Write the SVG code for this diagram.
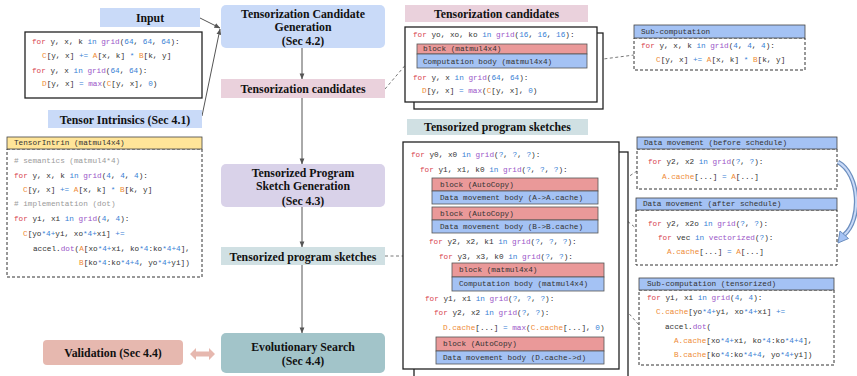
<svg xmlns="http://www.w3.org/2000/svg" width="857" height="376" viewBox="0 0 857 376">
<style>
.lb{font-family:"Liberation Serif",serif;font-weight:bold;font-size:11.8px;fill:#111;text-anchor:middle;dominant-baseline:central}
.c{font-family:"Liberation Mono",monospace;font-size:7.7px;fill:#333;dominant-baseline:central}
.k{fill:#d8434f}.i{fill:#3a7fd5}.f{fill:#9a55c8}.v{fill:#ee8a35}.cm{fill:#9a9a9a}
.box{fill:#fff;stroke:#222;stroke-width:1.3}
.dash{fill:#fff;stroke:#333;stroke-width:1;stroke-dasharray:3 2}
.hdr{stroke:#444;stroke-width:0.8}
.red{fill:#ea9999;stroke:#555;stroke-width:0.8}
.blue{fill:#a4c2f4;stroke:#555;stroke-width:0.8}
.conn{stroke:#555;stroke-width:1;fill:none}
.dl{stroke:#555;stroke-width:0.8;fill:none;stroke-dasharray:3 2.5}
</style>
<defs>
<marker id="ah" viewBox="0 0 8 8" refX="7.5" refY="4" markerWidth="6" markerHeight="6" orient="auto" markerUnits="userSpaceOnUse">
<path d="M0,0.8 L8,4 L0,7.2 z" fill="#555"/>
</marker>
</defs>
<rect width="857" height="376" fill="#fff"/>

<g id="connectors">
<line class="conn" x1="200" y1="18" x2="220" y2="28" marker-end="url(#ah)"/>
<line class="conn" x1="202" y1="116" x2="220" y2="29" marker-end="url(#ah)"/>
<line class="conn" x1="302" y1="48" x2="302" y2="79" marker-end="url(#ah)"/>
<line class="conn" x1="302" y1="98" x2="302" y2="164" marker-end="url(#ah)"/>
<line class="conn" x1="302" y1="207" x2="302" y2="247" marker-end="url(#ah)"/>
<line class="conn" x1="302" y1="265" x2="302" y2="333" marker-end="url(#ah)"/>
<line class="dl" x1="385" y1="89" x2="408" y2="62"/>
<line class="dl" x1="385" y1="256" x2="403" y2="256"/>
<line class="dl" x1="588" y1="61" x2="634" y2="55"/>
<line class="dl" x1="598" y1="197" x2="637" y2="171"/>
<line class="dl" x1="598" y1="197" x2="637" y2="229"/>
<line class="dl" x1="604" y1="285" x2="639" y2="325"/>
<path d="M190,354 L196,348 L196,351.5 L209,351.5 L209,348 L215,354 L209,360 L209,356.5 L196,356.5 L196,360 z" fill="#e6b8af"/>
<path d="M838,162 C860,174 862,220 844,235" fill="none" stroke="#6d8fbf" stroke-width="4.5"/>
<path d="M838,162 C860,174 862,220 844,235" fill="none" stroke="#c9daf8" stroke-width="2"/>
<polygon points="838,243 848.5,238.5 840,231" fill="#a4c2f4" stroke="#6d8fbf" stroke-width="1"/>
</g>

<g id="input-label">
<rect x="100" y="8" width="100" height="19" fill="#c9daf8"/>
<text class="lb" x="150" y="18">Input</text>
</g>

<g id="input-code">
<rect class="box" x="25" y="32" width="177" height="66"/>
<text class="c" x="32" y="42"><tspan class="k">for</tspan> y, x, k <tspan class="i">in</tspan> <tspan class="f">grid</tspan>(<tspan class="i">64</tspan>, <tspan class="i">64</tspan>, <tspan class="i">64</tspan>):</text>
<text class="c" x="42" y="56"><tspan class="v">C</tspan>[y, x] <tspan class="i">+=</tspan> <tspan class="v">A</tspan>[x, k] <tspan class="i">*</tspan> <tspan class="v">B</tspan>[k, y]</text>
<text class="c" x="32" y="71"><tspan class="k">for</tspan> y, x <tspan class="i">in</tspan> <tspan class="f">grid</tspan>(<tspan class="i">64</tspan>, <tspan class="i">64</tspan>):</text>
<text class="c" x="42" y="84"><tspan class="v">D</tspan>[y, x] <tspan class="i">=</tspan> <tspan class="f">max</tspan>(<tspan class="v">C</tspan>[y, x], <tspan class="i">0</tspan>)</text>
</g>

<g id="tensor-intrinsics-label">
<rect x="48" y="110" width="154" height="18" fill="#c9daf8"/>
<text class="lb" x="125" y="120">Tensor Intrinsics  (Sec 4.1)</text>
</g>

<g id="tensorintrin">
<rect class="dash" x="7" y="149" width="195" height="128"/>
<rect class="hdr" x="7" y="137" width="195" height="12" fill="#ffe599"/>
<text class="c" x="14" y="143">TensorIntrin (matmul4x4)</text>
<text class="c cm" x="14" y="161"># semantics (matmul4*4)</text>
<text class="c" x="14" y="175.5"><tspan class="k">for</tspan> y, x, k <tspan class="i">in</tspan> <tspan class="f">grid</tspan>(<tspan class="i">4</tspan>, <tspan class="i">4</tspan>, <tspan class="i">4</tspan>):</text>
<text class="c" x="23" y="190"><tspan class="v">C</tspan>[y, x] <tspan class="i">+=</tspan> <tspan class="v">A</tspan>[x, k] <tspan class="i">*</tspan> <tspan class="v">B</tspan>[k, y]</text>
<text class="c cm" x="14" y="204"># implementation (dot)</text>
<text class="c" x="14" y="219"><tspan class="k">for</tspan> yi, xi <tspan class="i">in</tspan> <tspan class="f">grid</tspan>(<tspan class="i">4</tspan>, <tspan class="i">4</tspan>):</text>
<text class="c" x="23" y="233.5"><tspan class="v">C</tspan>[yo<tspan class="i">*4+</tspan>yi, xo<tspan class="i">*4+</tspan>xi] <tspan class="i">+=</tspan></text>
<text class="c" x="33" y="249">accel.<tspan class="f">dot</tspan>(<tspan class="v">A</tspan>[xo<tspan class="i">*4+</tspan>xi, ko<tspan class="i">*4</tspan>:ko<tspan class="i">*4+4</tspan>],</text>
<text class="c" x="79" y="263"><tspan class="v">B</tspan>[ko<tspan class="i">*4</tspan>:ko<tspan class="i">*4+4</tspan>, yo<tspan class="i">*4+</tspan>yi])</text>
</g>

<g id="candidate-generation">
<rect x="221" y="5" width="164" height="43" rx="5" fill="#c9daf8"/>
<text class="lb" x="303" y="14">Tensorization Candidate</text>
<text class="lb" x="303" y="27">Generation</text>
<text class="lb" x="303" y="41">(Sec 4.2)</text>
</g>

<g id="candidates-center">
<rect x="221" y="79" width="164" height="19" fill="#ead1dc"/>
<text class="lb" x="303" y="89">Tensorization candidates</text>
</g>

<g id="sketch-generation">
<rect x="221" y="164" width="164" height="43" rx="5" fill="#d9d2e9"/>
<text class="lb" x="303" y="172.5">Tensorized Program</text>
<text class="lb" x="303" y="186">Sketch Generation</text>
<text class="lb" x="303" y="201">(Sec 4.3)</text>
</g>

<g id="sketches-center">
<rect x="221" y="247" width="164" height="18" fill="#d0e0e3"/>
<text class="lb" x="303" y="256.5">Tensorized program sketches</text>
</g>

<g id="evolutionary-search">
<rect x="221" y="333" width="164" height="40" rx="5" fill="#a2c4c9"/>
<text class="lb" x="303" y="346.5">Evolutionary Search</text>
<text class="lb" x="303" y="361">(Sec 4.4)</text>
</g>

<g id="validation">
<rect x="43" y="340" width="140" height="25" rx="4" fill="#e6b8af"/>
<text class="lb" x="113" y="353">Validation (Sec 4.4)</text>
</g>

<g id="candidates-panel">
<rect x="405" y="5" width="183" height="17" fill="#ead1dc"/>
<text class="lb" x="496.5" y="14">Tensorization candidates</text>
<rect class="box" x="414" y="33" width="189" height="76"/>
<rect class="box" x="405" y="27" width="192" height="75"/>
<text class="c" x="413" y="34.5"><tspan class="k">for</tspan> yo, xo, ko <tspan class="i">in</tspan> <tspan class="f">grid</tspan>(<tspan class="i">16</tspan>, <tspan class="i">16</tspan>, <tspan class="i">16</tspan>):</text>
<rect class="red" x="417" y="44" width="170" height="10"/>
<text class="c" x="423" y="49">block (matmul4x4)</text>
<rect class="blue" x="417" y="54" width="170" height="14"/>
<text class="c" x="423" y="61.5">Computation body (matmul4x4)</text>
<text class="c" x="413" y="78"><tspan class="k">for</tspan> y, x <tspan class="i">in</tspan> <tspan class="f">grid</tspan>(<tspan class="i">64</tspan>, <tspan class="i">64</tspan>):</text>
<text class="c" x="422" y="91"><tspan class="v">D</tspan>[y, x] <tspan class="i">=</tspan> <tspan class="f">max</tspan>(<tspan class="v">C</tspan>[y, x], <tspan class="i">0</tspan>)</text>
</g>

<g id="sub-computation">
<rect class="dash" x="634" y="38" width="171" height="32"/>
<rect class="hdr" x="634" y="25" width="171" height="13" fill="#a4c2f4"/>
<text class="c" x="641" y="32">Sub-computation</text>
<text class="c" x="641" y="46"><tspan class="k">for</tspan> y, x, k <tspan class="i">in</tspan> <tspan class="f">grid</tspan>(<tspan class="i">4</tspan>, <tspan class="i">4</tspan>, <tspan class="i">4</tspan>):</text>
<text class="c" x="656" y="60"><tspan class="v">C</tspan>[y, x] <tspan class="i">+=</tspan> <tspan class="v">A</tspan>[x, k] <tspan class="i">*</tspan> <tspan class="v">B</tspan>[k, y]</text>
</g>

<g id="sketches-panel">
<rect x="407" y="119" width="181" height="16" fill="#d0e0e3"/>
<text class="lb" x="497.5" y="127">Tensorized program sketches</text>
<rect class="box" x="414" y="152" width="214" height="230"/>
<rect class="box" x="403" y="142" width="216" height="227"/>
<text class="c" x="411" y="155"><tspan class="k">for</tspan> y0, x0 <tspan class="i">in</tspan> <tspan class="f">grid</tspan>(<tspan class="i">?</tspan>, <tspan class="i">?</tspan>, <tspan class="i">?</tspan>):</text>
<text class="c" x="420" y="170"><tspan class="k">for</tspan> y1, x1, k0 <tspan class="i">in</tspan> <tspan class="f">grid</tspan>(<tspan class="i">?</tspan>, <tspan class="i">?</tspan>, <tspan class="i">?</tspan>):</text>
<rect class="red" x="432" y="178" width="166" height="13"/>
<text class="c" x="440" y="184.5">block (AutoCopy)</text>
<rect class="blue" x="432" y="191" width="166" height="13"/>
<text class="c" x="440" y="197.5">Data movement body (A-&gt;A.cache)</text>
<rect class="red" x="432" y="207" width="166" height="13"/>
<text class="c" x="440" y="213.5">block (AutoCopy)</text>
<rect class="blue" x="432" y="220" width="166" height="13"/>
<text class="c" x="440" y="226.5">Data movement body (B-&gt;B.cache)</text>
<text class="c" x="429" y="242"><tspan class="k">for</tspan> y2, x2, k1 <tspan class="i">in</tspan> <tspan class="f">grid</tspan>(<tspan class="i">?</tspan>, <tspan class="i">?</tspan>, <tspan class="i">?</tspan>):</text>
<text class="c" x="439" y="257"><tspan class="k">for</tspan> y3, x3, k0 <tspan class="i">in</tspan> <tspan class="f">grid</tspan>(<tspan class="i">?</tspan>, <tspan class="i">?</tspan>):</text>
<rect class="red" x="452" y="263" width="152" height="14"/>
<text class="c" x="459" y="270">block (matmul4x4)</text>
<rect class="blue" x="452" y="277" width="152" height="14"/>
<text class="c" x="459" y="284">Computation body (matmul4x4)</text>
<text class="c" x="425" y="299"><tspan class="k">for</tspan> y1, x1 <tspan class="i">in</tspan> <tspan class="f">grid</tspan>(<tspan class="i">?</tspan>, <tspan class="i">?</tspan>, <tspan class="i">?</tspan>):</text>
<text class="c" x="434" y="313"><tspan class="k">for</tspan> y2, x2 <tspan class="i">in</tspan> <tspan class="f">grid</tspan>(<tspan class="i">?</tspan>, <tspan class="i">?</tspan>):</text>
<text class="c" x="443" y="328"><tspan class="v">D.cache</tspan>[...] <tspan class="i">=</tspan> <tspan class="f">max</tspan>(<tspan class="v">C.cache</tspan>[...], <tspan class="i">0</tspan>)</text>
<rect class="red" x="436" y="337" width="168" height="14"/>
<text class="c" x="443" y="344">block (AutoCopy)</text>
<rect class="blue" x="436" y="351" width="168" height="13"/>
<text class="c" x="443" y="357.5">Data movement body (D.cache-&gt;d)</text>
</g>

<g id="dm-before">
<rect class="dash" x="637" y="149" width="200" height="40"/>
<rect class="hdr" x="637" y="137" width="200" height="12" fill="#a4c2f4"/>
<text class="c" x="644" y="143">Data movement (before schedule)</text>
<text class="c" x="648" y="162"><tspan class="k">for</tspan> y2, x2 <tspan class="i">in</tspan> <tspan class="f">grid</tspan>(<tspan class="i">?</tspan>, <tspan class="i">?</tspan>):</text>
<text class="c" x="662" y="177"><tspan class="v">A.cache</tspan>[...] <tspan class="i">=</tspan> <tspan class="v">A</tspan>[...]</text>
</g>

<g id="dm-after">
<rect class="dash" x="636" y="210" width="201" height="55"/>
<rect class="hdr" x="636" y="198" width="201" height="12" fill="#a4c2f4"/>
<text class="c" x="643" y="204">Data movement (after schedule)</text>
<text class="c" x="648" y="224"><tspan class="k">for</tspan> y2, x2o <tspan class="i">in</tspan> <tspan class="f">grid</tspan>(<tspan class="i">?</tspan>, <tspan class="i">?</tspan>):</text>
<text class="c" x="658" y="237.5"><tspan class="k">for</tspan> vec <tspan class="i">in</tspan> <tspan class="f">vectorized</tspan>(<tspan class="i">?</tspan>):</text>
<text class="c" x="667" y="252"><tspan class="v">A.cache</tspan>[...] <tspan class="i">=</tspan> <tspan class="v">A</tspan>[...]</text>
</g>

<g id="sub-computation-tensorized">
<rect class="dash" x="639" y="290" width="195" height="75"/>
<rect class="hdr" x="639" y="278" width="195" height="12" fill="#a4c2f4"/>
<text class="c" x="647" y="284">Sub-computation (tensorized)</text>
<text class="c" x="647" y="298"><tspan class="k">for</tspan> yi, xi <tspan class="i">in</tspan> <tspan class="f">grid</tspan>(<tspan class="i">4</tspan>, <tspan class="i">4</tspan>):</text>
<text class="c" x="656" y="312"><tspan class="v">C.cache</tspan>[yo<tspan class="i">*4+</tspan>yi, xo<tspan class="i">*4+</tspan>xi] <tspan class="i">+=</tspan></text>
<text class="c" x="665" y="327">accel.<tspan class="f">dot</tspan>(</text>
<text class="c" x="674" y="341"><tspan class="v">A.cache</tspan>[xo<tspan class="i">*4+</tspan>xi, ko<tspan class="i">*4</tspan>:ko<tspan class="i">*4+4</tspan>],</text>
<text class="c" x="674" y="355"><tspan class="v">B.cache</tspan>[ko<tspan class="i">*4</tspan>:ko<tspan class="i">*4+4</tspan>, yo<tspan class="i">*4+</tspan>yi])</text>
</g>
</svg>
